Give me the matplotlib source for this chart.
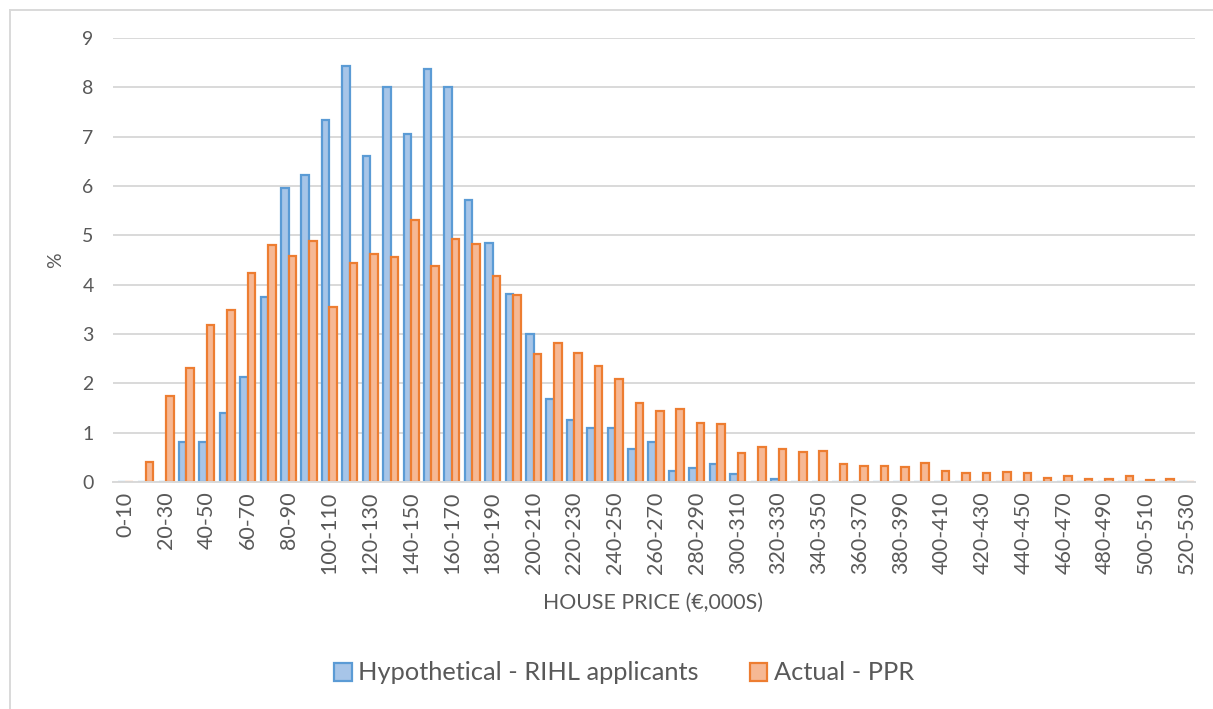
#!/usr/bin/env python3
"""House price distribution: hypothetical RIHL applicants vs actual PPR."""

import matplotlib
matplotlib.use("Agg")
import matplotlib.pyplot as plt
from matplotlib.patches import Patch
from matplotlib.lines import Line2D
import numpy as np

plt.rcParams["font.family"] = ["Lato", "DejaVu Sans"]

# price bands, in EUR thousands
bands = [f"{lo}-{lo + 10}" for lo in range(0, 530, 10)]

hypothetical = [
    0, 0, 0, 0.81, 0.81, 1.40, 2.13, 3.74, 5.95, 6.23,
    7.34, 8.43, 6.61, 8.00, 7.05, 8.37, 8.00, 5.72, 4.85, 3.81,
    3.01, 1.69, 1.25, 1.10, 1.10, 0.66, 0.81, 0.22, 0.29, 0.37,
    0.16, 0, 0.07, 0, 0, 0, 0, 0, 0, 0,
    0, 0, 0, 0, 0, 0, 0, 0, 0, 0,
    0, 0, 0,
]
actual = [
    0, 0.40, 1.74, 2.31, 3.19, 3.49, 4.23, 4.80, 4.58, 4.88,
    3.54, 4.44, 4.63, 4.56, 5.32, 4.38, 4.92, 4.82, 4.17, 3.79,
    2.59, 2.82, 2.62, 2.35, 2.08, 1.61, 1.43, 1.48, 1.19, 1.18,
    0.59, 0.70, 0.67, 0.61, 0.62, 0.36, 0.33, 0.33, 0.31, 0.38,
    0.22, 0.18, 0.18, 0.20, 0.18, 0.09, 0.12, 0.07, 0.07, 0.12,
    0.04, 0.06, 0,
]

TEXT = "#595959"
BLUE_EDGE, BLUE_FILL = "#5B9BD5", "#A7C5E8"
ORANGE_EDGE, ORANGE_FILL = "#ED7D31", "#F6B894"

fig = plt.figure(figsize=(12.13, 7.09), dpi=100)
ax = fig.add_axes([113 / 1213, 1 - 482 / 709, 1082 / 1213, 444 / 709])

x = np.arange(len(bands))
w = 0.37
ax.bar(x - w / 2, hypothetical, w, color=BLUE_FILL, edgecolor=BLUE_EDGE,
       linewidth=1.6, zorder=3)
ax.bar(x + w / 2, actual, w, color=ORANGE_FILL, edgecolor=ORANGE_EDGE,
       linewidth=1.6, zorder=3)

ax.set_xlim(-0.6, len(bands) - 0.6)
ax.set_ylim(0, 9)
ax.set_yticks(range(10))
ax.set_xticks(x[::2])
ax.set_xticklabels(bands[::2], rotation=90)
ax.tick_params(axis="y", length=0, colors=TEXT, labelsize=14, pad=14)
ax.tick_params(axis="x", length=0, colors=TEXT, labelsize=15.5, pad=7)

ax.grid(axis="y", color="#D9D9D9", linewidth=1.4, zorder=0)
for s in ["top", "right", "left"]:
    ax.spines[s].set_visible(False)
ax.spines["bottom"].set_color("#D9D9D9")
ax.spines["bottom"].set_linewidth(1.4)
ax.spines["bottom"].set_zorder(4)

ax.set_xlabel("HOUSE PRICE (€,000S)", fontsize=15.3, color=TEXT)
ax.xaxis.set_label_coords(0.499, -0.25)
ax.set_ylabel("%", fontsize=14, color=TEXT)
ax.yaxis.set_label_coords(-0.045, 0.5)

handles = [
    Patch(facecolor=BLUE_FILL, edgecolor=BLUE_EDGE, linewidth=1.6,
          label="Hypothetical - RIHL applicants"),
    Patch(facecolor=ORANGE_FILL, edgecolor=ORANGE_EDGE, linewidth=1.6,
          label="Actual - PPR"),
]
leg = fig.legend(handles=handles, loc="center", ncol=2, frameon=False,
                 bbox_to_anchor=(624 / 1213, 1 - 673 / 709), fontsize=18.3,
                 handlelength=0.7, handleheight=0.7, handletextpad=0.25,
                 columnspacing=2.0)
for t in leg.get_texts():
    t.set_color(TEXT)

# chart frame
fig.add_artist(Line2D([10 / 1213, 1], [1 - 10 / 709] * 2, color="#D9D9D9",
                      linewidth=1.4))
fig.add_artist(Line2D([10 / 1213] * 2, [0, 1 - 10 / 709], color="#D9D9D9",
                      linewidth=1.4))

fig.savefig("out.png", dpi=100)
